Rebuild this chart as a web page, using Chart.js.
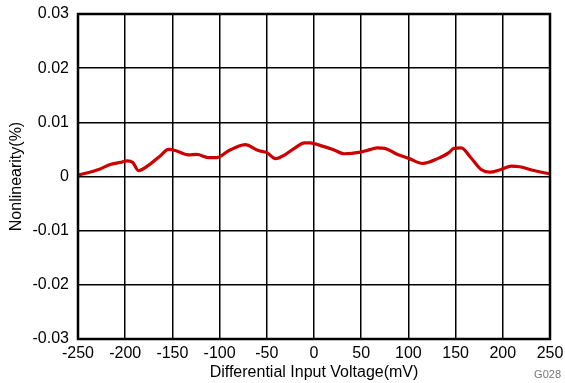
<!DOCTYPE html>
<html>
<head>
<meta charset="utf-8">
<script src="https://cdn.jsdelivr.net/npm/chart.js@4/dist/chart.umd.min.js"></script>
<style>
  html, body { margin: 0; padding: 0; background: #fff; }
  #wrap { width: 565px; height: 383px; }
</style>
</head>
<body>
<div id="wrap"><canvas id="grafica"></canvas></div>
<script>
// datos
const voltajes = [-249, -228, -216, -205, -198, -192, -186, -175, -163, -154, -147, -133, -124, -112, -103, -90, -80, -73, -59, -50, -41, -30, -20, -10, -4, 7, 20, 32, 49, 60, 67, 75, 88, 101, 115, 131, 143, 148, 156, 166, 177, 186, 198, 209, 218, 233, 249];
const nolinealidad = [0.0003, 0.0013, 0.0022, 0.0026, 0.0029, 0.0026, 0.0011, 0.0021, 0.0038, 0.005, 0.0048, 0.004, 0.0041, 0.0035, 0.0035, 0.0048, 0.0056, 0.0059, 0.0048, 0.0044, 0.0033, 0.0041, 0.0053, 0.0062, 0.0062, 0.0057, 0.005, 0.0042, 0.0045, 0.005, 0.0053, 0.0052, 0.0041, 0.0033, 0.0024, 0.0033, 0.0044, 0.0052, 0.0053, 0.0035, 0.0013, 0.0008, 0.0013, 0.0019, 0.0018, 0.0011, 0.0005];
const ticksY = [-0.03, -0.02, -0.01, 0, 0.01, 0.02, 0.03];

const fuente = 'Liberation Sans, Arial, sans-serif';

// marco grueso y etiqueta G028
const marcoPlugin = {
    id: 'marco',
    afterDraw(chart) {
        const { ctx, chartArea: a } = chart;
        ctx.save();
        ctx.strokeStyle = '#000';
        ctx.lineWidth = 2.5;
        ctx.strokeRect(a.left, a.top, a.right - a.left, a.bottom - a.top);
        ctx.fillStyle = '#777';
        ctx.font = '11px ' + fuente;
        ctx.textAlign = 'right';
        ctx.textBaseline = 'middle';
        ctx.fillText('G028', 561, 375);
        ctx.restore();
    }
};

new Chart(document.getElementById('grafica'), {
    type: 'line',
    data: {
        datasets: [{
            data: voltajes.map((v, i) => ({ x: v, y: nolinealidad[i] })),
            borderColor: '#cc0000',
            borderWidth: 3.2,
            pointRadius: 0,
            tension: 0.4,
            cubicInterpolationMode: 'monotone',
            fill: false
        }]
    },
    options: {
        responsive: true,
        maintainAspectRatio: false,
        animation: false,
        layout: { padding: { top: 14, right: 15, left: 0, bottom: 0 } },
        plugins: { legend: { display: false }, tooltip: { enabled: false } },
        scales: {
            x: {
                type: 'linear',
                min: -250,
                max: 250,
                ticks: { stepSize: 50, color: '#000', padding: 5, font: { family: fuente, size: 16 }, maxRotation: 0 },
                grid: { color: '#000', lineWidth: 1.5, drawTicks: false },
                border: { display: false },
                title: { display: true, text: 'Differential Input Voltage(mV)', color: '#000', font: { family: fuente, size: 16 }, padding: { top: 0, bottom: 1 } },
                afterFit(scale) {
                    scale.height = 44;
                    scale.paddingLeft = 0;
                    scale.paddingRight = 0;
                }
            },
            y: {
                min: -0.03,
                max: 0.03,
                afterBuildTicks(scale) { scale.ticks = ticksY.map(v => ({ value: v })); },
                ticks: {
                    color: '#000',
                    padding: 9,
                    font: { family: fuente, size: 16 },
                    callback: v => Math.abs(v) < 1e-9 ? '0' : v.toFixed(2)
                },
                grid: { color: '#000', lineWidth: 1.5, drawTicks: false },
                border: { display: false },
                title: { display: true, text: 'Nonlinearity(%)', color: '#000', font: { family: fuente, size: 16 }, padding: { top: 7, bottom: 0 } },
                afterFit(scale) {
                    scale.width = 78;
                    scale.paddingTop = 0;
                    scale.paddingBottom = 0;
                }
            }
        }
    },
    plugins: [marcoPlugin]
});
</script>
</body>
</html>
